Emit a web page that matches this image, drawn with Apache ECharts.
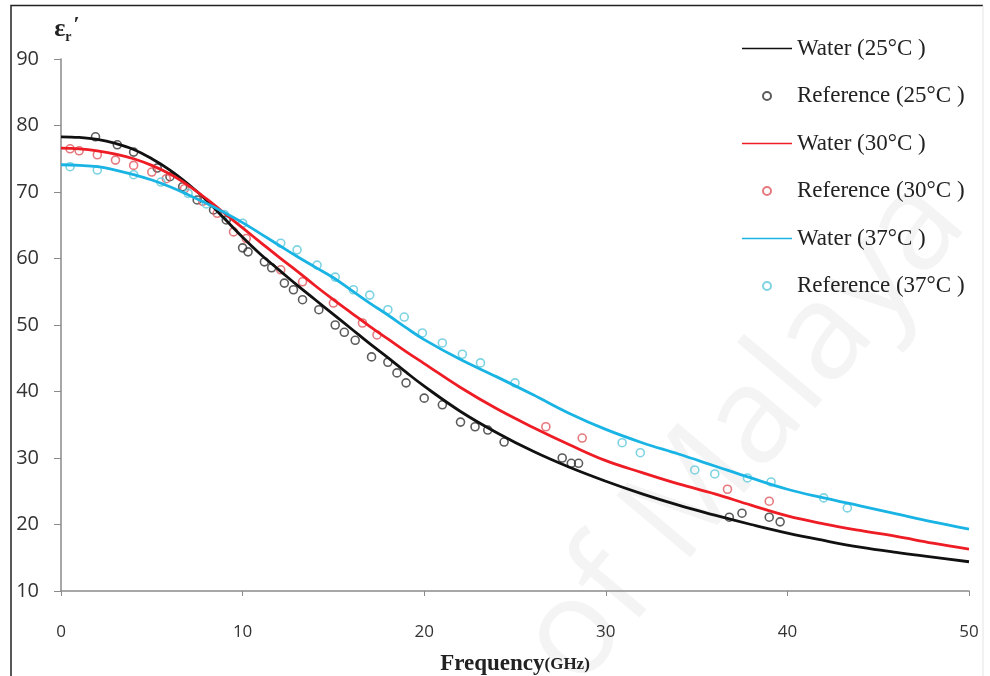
<!DOCTYPE html>
<html>
<head>
<meta charset="utf-8">
<script src="https://cdn.jsdelivr.net/npm/echarts@6/dist/echarts.min.js"></script>
<style>html,body{margin:0;padding:0;background:#fff}#c{width:990px;height:676px}</style>
</head>
<body>
<div id="c"></div>
<script>
// Frequency grid (GHz) for model curves
const freq = [0,1,2,3,4,5,6,7,8,9,10,11,12,13,14,15,16,17,18,19,20,22,24,26,28,30,32,34,36,38,40,42,44,46,48,50];
// Model curves
const water25 = [78.3,78.2,77.9,77.3,76.4,75.0,73.3,71.2,68.8,66.0,63.2,60.6,58.3,56.0,53.8,51.6,49.4,47.2,45.1,42.9,40.8,37.0,33.8,31.0,28.6,26.5,24.6,22.9,21.4,20.0,18.7,17.6,16.6,15.8,15.1,14.4];
const water30 = [76.6,76.5,76.2,75.7,75.0,74.0,72.7,71.0,69.0,66.8,64.6,62.4,60.2,58.1,55.9,53.8,51.8,49.8,47.9,46.0,44.2,40.6,37.4,34.6,32.0,29.6,27.8,26.1,24.6,22.9,21.3,20.1,19.1,18.2,17.2,16.3];
const water37 = [74.1,74.0,73.8,73.3,72.6,71.8,70.8,69.6,68.3,66.9,65.4,63.7,62.0,60.3,58.7,57.1,55.2,53.3,51.5,49.6,47.8,44.8,42.2,39.5,36.7,34.3,32.3,30.6,28.8,27.0,25.3,24.0,22.8,21.6,20.4,19.3];
// Reference measurements [GHz, value]
const ref25 = [[1.9,78.3],[3.1,77.1],[4.0,76.0],[5.3,73.6],[6.0,72.3],[6.7,70.8],[7.5,68.8],[8.4,67.3],[9.1,65.8],[10.0,61.6],[10.3,61.0],[11.2,59.5],[11.6,58.6],[12.3,56.3],[12.8,55.3],[13.3,53.8],[14.2,52.3],[15.1,50.0],[15.6,48.9],[16.2,47.7],[17.1,45.2],[18.0,44.4],[18.5,42.8],[19.0,41.3],[20.0,39.0],[21.0,38.0],[22.0,35.4],[22.8,34.7],[23.5,34.2],[24.4,32.4],[27.6,30.0],[28.1,29.2],[28.5,29.2],[36.8,21.1],[37.5,21.7],[39.0,21.1],[39.6,20.4]];
const ref30 = [[0.5,76.5],[1.0,76.2],[2.0,75.6],[3.0,74.8],[4.0,74.0],[5.0,73.0],[5.8,72.0],[6.8,70.5],[7.8,68.6],[8.6,66.8],[9.5,64.0],[10.2,63.0],[12.1,58.3],[13.3,56.5],[15.0,53.3],[16.6,50.3],[17.4,48.5],[26.7,34.7],[28.7,33.0],[36.7,25.3],[39.0,23.5]];
const ref37 = [[0.5,73.8],[2.0,73.3],[4.0,72.6],[5.5,71.5],[7.0,69.8],[8.0,68.2],[9.0,66.6],[10.0,65.3],[12.1,62.3],[13.0,61.3],[14.1,59.0],[15.1,57.2],[16.1,55.3],[17.0,54.5],[18.0,52.3],[18.9,51.2],[19.9,48.8],[21.0,47.3],[22.1,45.6],[23.1,44.3],[25.0,41.3],[30.9,32.3],[31.9,30.8],[34.9,28.2],[36.0,27.6],[37.8,27.0],[39.1,26.4],[42.0,24.0],[43.3,22.5]];
const names = ['Water (25°C )','Reference (25°C )','Water (30°C )','Reference (30°C )','Water (37°C )','Reference (37°C )'];

const zip = (xs, ys) => xs.map((x, i) => [x, ys[i]]);
const lineColors = ['#111111', '#ee1c24', '#19b4e4'];
const dotColors = ['#333333', '#e0575c', '#5cc8da'];

function lineSeries(name, data, color) {
  return { name, type: 'line', data, symbol: 'none', smooth: 0.4, z: 3,
    lineStyle: { color, width: 2.8 }, itemStyle: { color } };
}
function dotSeries(name, data, color) {
  return { name, type: 'scatter', data, symbol: 'circle', symbolSize: 8, z: 2,
    itemStyle: { color: 'rgba(255,255,255,0)', borderColor: color, borderWidth: 1.6 } };
}
const lineIcon = 'path://M0 0H50V1.6H0Z';
const legendData = names.map((n, i) => i % 2 === 0
  ? { name: n, icon: lineIcon, itemStyle: { color: lineColors[i / 2] } }
  : { name: n });

const chart = echarts.init(document.getElementById('c'), null, { renderer: 'canvas' });
chart.setOption({
  animation: false,
  backgroundColor: '#ffffff',
  grid: { left: 61, right: 21, top: 59, bottom: 85, containLabel: false, outerBoundsMode: 'none' },
  graphic: [
    { type: 'text', z: 0, x: 600, y: 710, rotation: 50 * Math.PI / 180,
      style: { text: 'of Malaya', fontSize: 135, fontFamily: 'Open Sans', fontWeight: 'normal',
        fill: 'rgba(0,0,0,0.045)', textAlign: 'left', textVerticalAlign: 'bottom' } },
    { type: 'polyline', z: 10, shape: { points: [[11, 676], [11, 5.5], [983, 5.5]] },
      style: { stroke: '#222', lineWidth: 1.5, fill: null } },
    { type: 'line', z: 10, shape: { x1: 983, y1: 5.5, x2: 983, y2: 676 },
      style: { stroke: '#e4e4e4', lineWidth: 1 } }
  ],
  legend: {
    orient: 'vertical', left: 737, top: 32, itemWidth: 50, itemHeight: 8, itemGap: 24.5,
    symbolKeepAspect: true,
    textStyle: { fontFamily: 'Liberation Serif', fontSize: 23, color: '#222' },
    data: legendData
  },
  xAxis: {
    type: 'value', min: 0, max: 50, interval: 10,
    name: '{a|Frequency}{b|(GHz)}', nameLocation: 'middle', nameGap: 62,
    nameTextStyle: { rich: {
      a: { fontFamily: 'Liberation Serif', fontWeight: 'bold', fontSize: 23, color: '#222' },
      b: { fontFamily: 'Liberation Serif', fontWeight: 'bold', fontSize: 17, color: '#222' } } },
    axisLine: { lineStyle: { color: '#8a8a8a', width: 1.5 } },
    axisTick: { show: true, length: 5, lineStyle: { color: '#8a8a8a' } },
    axisLabel: { margin: 33, fontFamily: 'Open Sans', fontSize: 17, color: '#333' },
    splitLine: { show: false }
  },
  yAxis: {
    type: 'value', min: 10, max: 90, interval: 10,
    name: '{e|ε}{r|r}{p|\u2032}', nameLocation: 'end', nameGap: 15,
    nameTextStyle: { align: 'center', padding: [0, 0, 0, 12], rich: {
      e: { fontFamily: 'Liberation Serif', fontWeight: 'bold', fontSize: 26, color: '#222', verticalAlign: 'middle' },
      r: { fontFamily: 'Liberation Serif', fontWeight: 'bold', fontSize: 14, color: '#222', verticalAlign: 'bottom', padding: [8, 0, 0, 0] },
      p: { fontFamily: 'Liberation Serif', fontWeight: 'bold', fontSize: 22, color: '#222', verticalAlign: 'top', padding: [0, 0, 8, 2] } } },
    axisLine: { show: true, lineStyle: { color: '#8a8a8a', width: 1.5 } },
    axisTick: { show: true, length: 7, lineStyle: { color: '#8a8a8a' } },
    axisLabel: { margin: 22, fontFamily: 'Open Sans', fontSize: 20, color: '#333' },
    splitLine: { show: false }
  },
  series: [
    lineSeries(names[0], zip(freq, water25), lineColors[0]),
    dotSeries(names[1], ref25, dotColors[0]),
    lineSeries(names[2], zip(freq, water30), lineColors[1]),
    dotSeries(names[3], ref30, dotColors[1]),
    lineSeries(names[4], zip(freq, water37), lineColors[2]),
    dotSeries(names[5], ref37, dotColors[2])
  ]
});
</script>
</body>
</html>
